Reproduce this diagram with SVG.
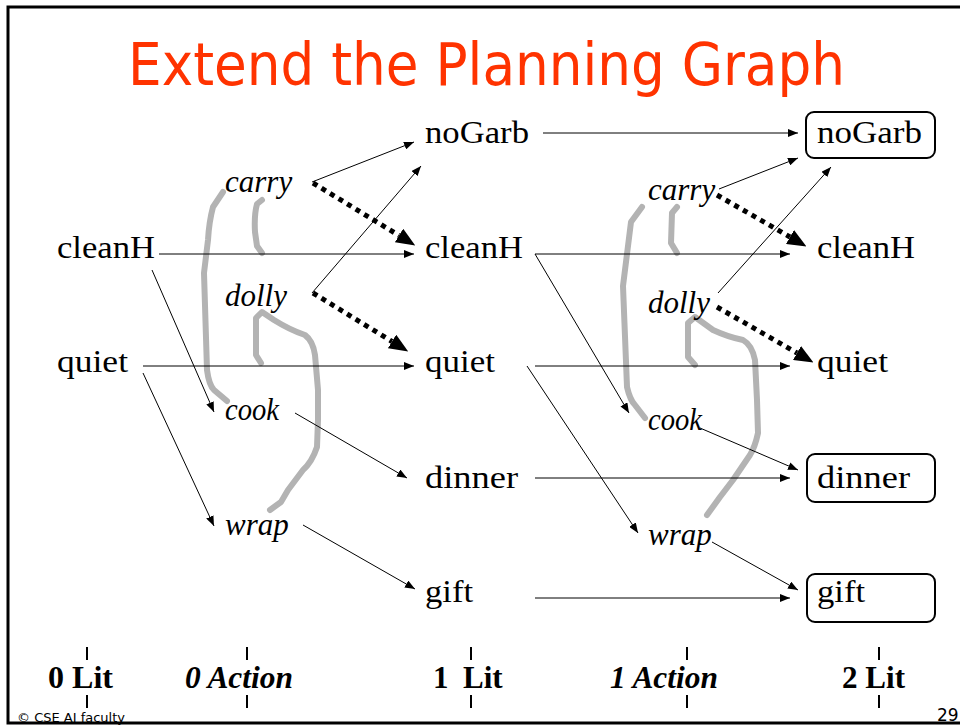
<svg xmlns="http://www.w3.org/2000/svg" width="960" height="726" viewBox="0 0 960 726">
<defs>
<style>
.lit{font-family:"Liberation Serif","Times New Roman",serif;font-size:32px;fill:#000}
.act{font-family:"Liberation Serif","Times New Roman",serif;font-size:31px;font-style:italic;fill:#000}
.axis{font-family:"Liberation Serif","Times New Roman",serif;font-size:31px;font-weight:bold;fill:#000}
.title{font-family:"DejaVu Sans","Liberation Sans",sans-serif;font-size:58px;fill:#ff3300}
.small{font-family:"DejaVu Sans","Liberation Sans",sans-serif;fill:#000}
.thin{stroke:#000;stroke-width:1;fill:none;marker-end:url(#ah)}
.dot{stroke:#000;stroke-width:5;stroke-dasharray:5 5;fill:none;marker-end:url(#big)}
.mutex{stroke:#b3b3b3;stroke-width:6;fill:none;stroke-linecap:round;stroke-linejoin:round}
.box{fill:#fff;stroke:#000;stroke-width:2}
.tick{stroke:#000;stroke-width:2}
</style>
<marker id="ah" markerUnits="userSpaceOnUse" markerWidth="10" markerHeight="8" refX="10" refY="4" orient="auto">
<path d="M0,0 L10,4 L0,8 z" fill="#000"/>
</marker>
<marker id="big" markerUnits="userSpaceOnUse" markerWidth="19" markerHeight="16" refX="0" refY="8" orient="auto">
<path d="M0,0 L19,8 L0,16 z" fill="#000"/>
</marker>
</defs>
<rect width="960" height="726" fill="#fff"/>
<path d="M962,7 H8 V723 H962" fill="none" stroke="#000" stroke-width="3"/>
<text class="title" x="128" y="85" textLength="717" lengthAdjust="spacingAndGlyphs">Extend the Planning Graph</text>

<g id="mutexes">
<path class="mutex" d="M223,192 L213,207 Q209,222 208,240 L204,273 L207,370 Q209,385 214,390 L227,401"/>
<path class="mutex" d="M262,200 L257,204 Q254,215 255,232 L257,246 L262,253"/>
<path class="mutex" d="M261,363 L256,355 L256,318 L262,312 L274,320 Q290,330 305,335 Q313,341 315,355 L318,390 L318,420 L317,447 Q312,462 303,470 L288,490 L281,502 L270,510"/>
<path class="mutex" d="M642,207 L631,222 L627,254 L623,286 L627,387 Q630,400 635,405 L645,418"/>
<path class="mutex" d="M677,207 L672,213 L671,243 L677,253"/>
<path class="mutex" d="M695,365 L688,357 L688,323 L695,317 L713,330 Q728,337 743,340 Q752,345 755,360 L757,400 L758,433 Q755,447 750,455 L733,480 L720,497 L707,515"/>
</g>

<g id="connectors">
<line class="thin" x1="159" y1="254" x2="414" y2="254"/>
<line class="thin" x1="143" y1="366" x2="414" y2="366"/>
<line class="thin" x1="312" y1="182" x2="414" y2="142"/>
<line class="thin" x1="312" y1="293" x2="421" y2="166"/>
<line class="thin" x1="152" y1="270" x2="214" y2="412"/>
<line class="thin" x1="143" y1="373" x2="214" y2="526"/>
<line class="thin" x1="295" y1="413" x2="407" y2="478"/>
<line class="thin" x1="303" y1="525" x2="415" y2="589"/>
<line class="thin" x1="543" y1="133" x2="798" y2="133"/>
<line class="thin" x1="535" y1="254" x2="790" y2="254"/>
<line class="thin" x1="535" y1="366" x2="790" y2="366"/>
<line class="thin" x1="535" y1="478" x2="790" y2="478"/>
<line class="thin" x1="535" y1="598" x2="790" y2="598"/>
<line class="thin" x1="535" y1="254" x2="629" y2="413"/>
<line class="thin" x1="527" y1="366" x2="638" y2="533"/>
<line class="thin" x1="719" y1="189" x2="798" y2="158"/>
<line class="thin" x1="718" y1="293" x2="831" y2="167"/>
<line class="thin" x1="700" y1="428" x2="798" y2="470"/>
<line class="thin" x1="712" y1="542" x2="798" y2="590"/>
<line class="dot" x1="313" y1="183" x2="399" y2="235.5"/>
<line class="dot" x1="313" y1="293" x2="392" y2="341.5"/>
<line class="dot" x1="717" y1="195" x2="790" y2="237"/>
<line class="dot" x1="717" y1="307" x2="797" y2="353"/>
</g>

<g id="l0-cleanH"><text class="lit" x="57" y="258" textLength="98" lengthAdjust="spacingAndGlyphs">cleanH</text></g>
<g id="l0-quiet"><text class="lit" x="57" y="372" textLength="71" lengthAdjust="spacingAndGlyphs">quiet</text></g>

<g id="a0-carry"><text class="act" x="225" y="192">carry</text></g>
<g id="a0-dolly"><text class="act" x="225" y="306">dolly</text></g>
<g id="a0-cook"><text class="act" x="225" y="420" textLength="54" lengthAdjust="spacingAndGlyphs">cook</text></g>
<g id="a0-wrap"><text class="act" x="225" y="535">wrap</text></g>

<g id="l1-noGarb"><text class="lit" x="425" y="143" textLength="104" lengthAdjust="spacingAndGlyphs">noGarb</text></g>
<g id="l1-cleanH"><text class="lit" x="425" y="258" textLength="98" lengthAdjust="spacingAndGlyphs">cleanH</text></g>
<g id="l1-quiet"><text class="lit" x="425" y="372" textLength="70" lengthAdjust="spacingAndGlyphs">quiet</text></g>
<g id="l1-dinner"><text class="lit" x="425" y="488" textLength="93" lengthAdjust="spacingAndGlyphs">dinner</text></g>
<g id="l1-gift"><text class="lit" x="425" y="602" textLength="48" lengthAdjust="spacingAndGlyphs">gift</text></g>

<g id="a1-carry"><text class="act" x="648" y="200">carry</text></g>
<g id="a1-dolly"><text class="act" x="648" y="313">dolly</text></g>
<g id="a1-cook"><text class="act" x="648" y="430" textLength="54" lengthAdjust="spacingAndGlyphs">cook</text></g>
<g id="a1-wrap"><text class="act" x="648" y="545">wrap</text></g>

<g id="l2-noGarb"><rect class="box" x="806" y="112" width="129" height="46" rx="8"/><text class="lit" x="817" y="143" textLength="105" lengthAdjust="spacingAndGlyphs">noGarb</text></g>
<g id="l2-cleanH"><text class="lit" x="817" y="258" textLength="98" lengthAdjust="spacingAndGlyphs">cleanH</text></g>
<g id="l2-quiet"><text class="lit" x="817" y="372" textLength="71" lengthAdjust="spacingAndGlyphs">quiet</text></g>
<g id="l2-dinner"><rect class="box" x="807" y="454" width="128" height="48" rx="8"/><text class="lit" x="817" y="488" textLength="93" lengthAdjust="spacingAndGlyphs">dinner</text></g>
<g id="l2-gift"><rect class="box" x="807" y="574" width="128" height="48" rx="8"/><text class="lit" x="817" y="602" textLength="48" lengthAdjust="spacingAndGlyphs">gift</text></g>

<g id="axis">
<line class="tick" x1="87" y1="647" x2="87" y2="660"/><line class="tick" x1="87" y1="695" x2="87" y2="708"/>
<line class="tick" x1="247" y1="647" x2="247" y2="660"/><line class="tick" x1="247" y1="695" x2="247" y2="708"/>
<line class="tick" x1="471" y1="647" x2="471" y2="660"/><line class="tick" x1="471" y1="695" x2="471" y2="708"/>
<line class="tick" x1="687" y1="647" x2="687" y2="660"/><line class="tick" x1="687" y1="695" x2="687" y2="708"/>
<line class="tick" x1="879" y1="647" x2="879" y2="660"/><line class="tick" x1="879" y1="695" x2="879" y2="708"/>
<text class="axis" x="48" y="688" textLength="65" lengthAdjust="spacingAndGlyphs">0 Lit</text>
<text class="axis" x="185" y="688" font-style="italic" textLength="108" lengthAdjust="spacingAndGlyphs">0 Action</text>
<text class="axis" x="433" y="688">1 <tspan x="463">Lit</tspan></text>
<text class="axis" x="610" y="688" font-style="italic" textLength="108" lengthAdjust="spacingAndGlyphs">1 Action</text>
<text class="axis" x="842" y="688" textLength="63" lengthAdjust="spacingAndGlyphs">2 Lit</text>
</g>
<text class="small" x="17" y="722" font-size="13">© CSE AI faculty</text>
<text class="small" x="937" y="721" font-size="17">29</text>
</svg>
